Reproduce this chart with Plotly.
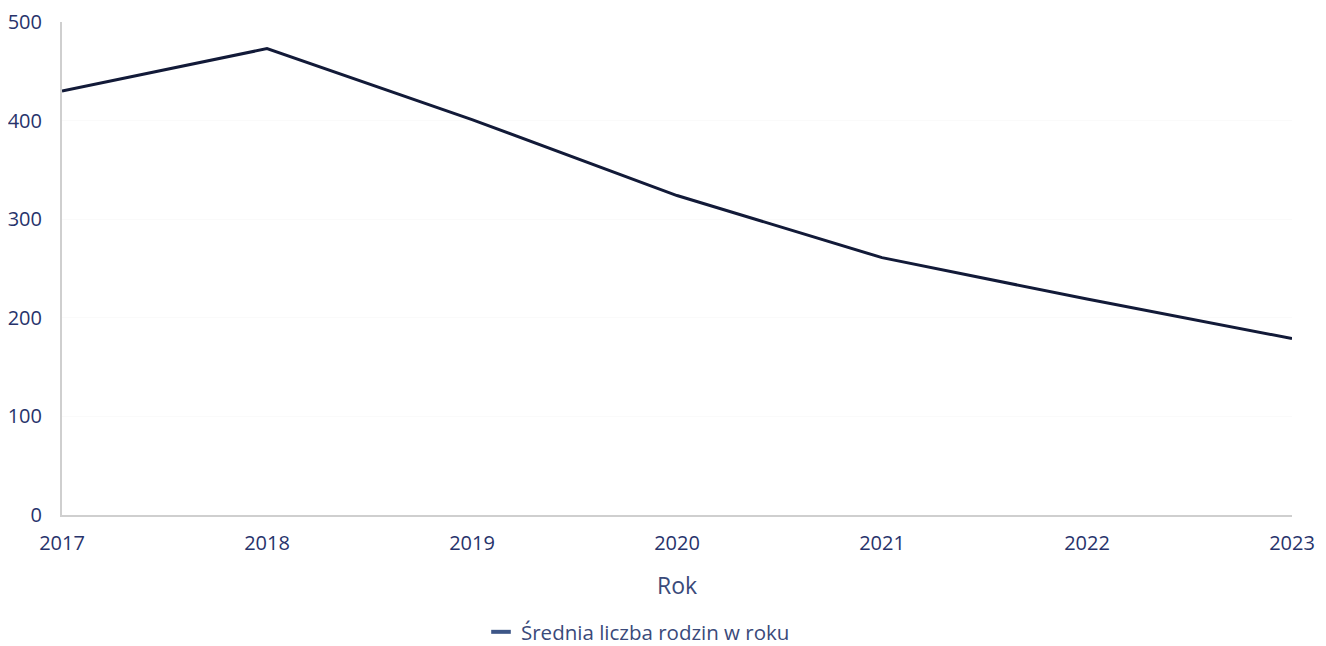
import plotly.graph_objects as go

years = [2017, 2018, 2019, 2020, 2021, 2022, 2023]
families = [430, 473, 401, 324, 261, 219, 179]
y_ticks = [0, 100, 200, 300, 400, 500]
series_name = "Średnia liczba rodzin w roku"

TEXT = "#27336b"
SOFT_TEXT = "#3a4a7a"
LINE = "#121a38"
AXIS = "#cfcfcf"

# the page body adds an 8px margin, so the figure is a bit smaller than the window
W, H = 1318, 638

fig = go.Figure()
fig.add_trace(go.Scatter(
    x=years,
    y=families,
    mode="lines",
    name=series_name,
    showlegend=False,
    line=dict(color=LINE, width=3),
))
# short legend swatch, the reference uses a small dash rather than a long line
fig.add_trace(go.Scatter(
    x=[None],
    y=[None],
    mode="markers",
    name=series_name,
    marker=dict(symbol="line-ew", size=14, line=dict(width=4, color="#3d5687")),
))

fig.update_layout(
    width=W,
    height=H,
    paper_bgcolor="white",
    plot_bgcolor="white",
    font=dict(family="Open Sans", color=TEXT, size=20),
    margin=dict(l=54, r=34, t=14, b=131),
    showlegend=True,
    legend=dict(
        orientation="h",
        x=630 / W,
        xanchor="center",
        xref="container",
        y=(H - 624) / H,
        yanchor="middle",
        yref="container",
        font=dict(size=20.5, color=SOFT_TEXT),
        itemwidth=30,
    ),
)
fig.update_xaxes(
    range=[2017, 2023],
    tickvals=years,
    showgrid=False,
    zeroline=False,
    showline=True,
    linecolor=AXIS,
    linewidth=2,
    ticks="",
    ticklabelstandoff=9,
    ticklabeloverflow="allow",
    automargin=False,
    title=dict(text="Rok", font=dict(size=23, color=SOFT_TEXT), standoff=23),
)
fig.update_yaxes(
    range=[0, 500],
    tickvals=y_ticks,
    showgrid=True,
    gridcolor="#fafafa",
    zeroline=False,
    showline=True,
    linecolor=AXIS,
    linewidth=2,
    ticks="",
    ticklabelstandoff=14,
    ticklabeloverflow="allow",
    automargin=False,
)

fig.write_html("out.html")
